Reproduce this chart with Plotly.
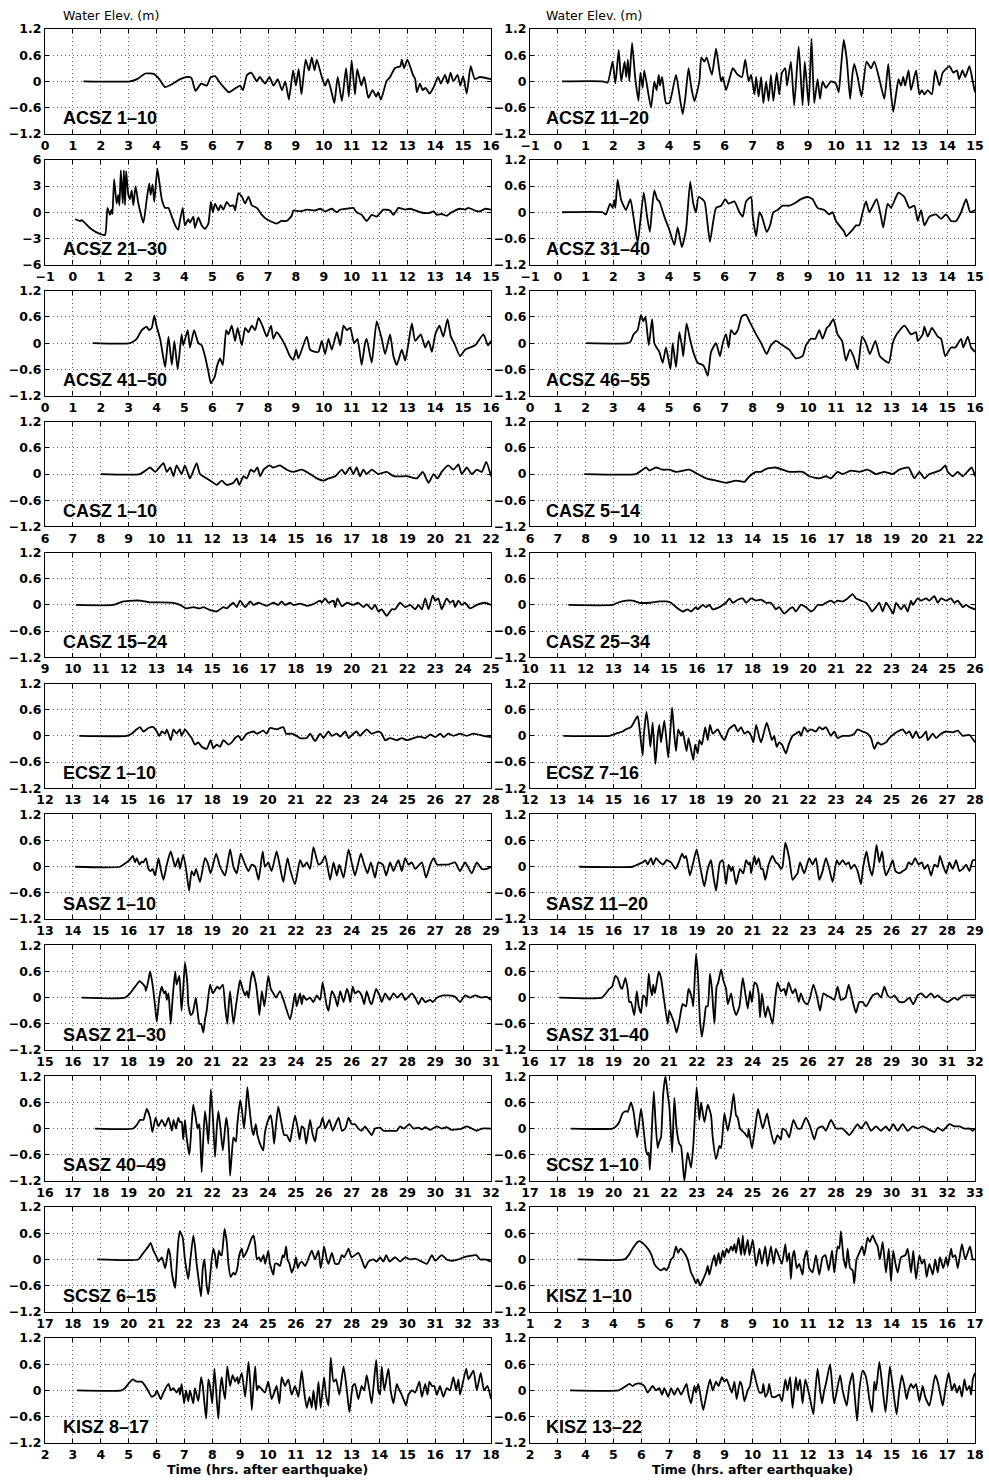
import plotly.graph_objects as go

# ---------------- data (time in hours, water elevation in m) ----------------
ACSZ_1_10 = [(1.38,0),(3.05,0),(3.3,0.05),(3.6,0.18),(3.9,0.17),(4.1,0.05),(4.3,-0.13),(4.6,-0.05),(4.85,0.05),(5.1,0.1),
 (5.25,0.08),(5.4,-0.22),(5.6,-0.05),(5.8,-0.1),(5.95,0.1),(6.1,0.12),(6.3,-0.05),(6.6,-0.25),(6.85,-0.15),(7.0,-0.1),
 (7.1,-0.2),(7.25,0.15),(7.4,0.2),(7.6,0.0),(7.7,0.1),(7.9,-0.05),(8.05,0.1),(8.2,-0.1),(8.35,0.05),(8.5,-0.2),
 (8.62,0.0),(8.75,-0.42),(8.9,0.25),(9.0,-0.1),(9.1,0.28),(9.2,-0.3),(9.35,0.5),(9.47,0.25),(9.57,0.55),(9.67,0.25),
 (9.75,0.5),(9.93,0.1),(10.05,-0.1),(10.15,0.05),(10.3,-0.3),(10.38,-0.5),(10.5,0.1),(10.65,-0.45),(10.8,0.3),(10.9,-0.35),
 (11.0,0.48),(11.12,-0.3),(11.2,0.28),(11.35,-0.1),(11.45,0.1),(11.6,-0.38),(11.75,-0.2),(11.88,-0.35),(11.95,-0.25),(12.05,-0.42),
 (12.25,0.0),(12.38,0.1),(12.55,0.3),(12.75,0.35),(12.8,0.5),(12.88,0.3),(13.0,0.5),(13.2,0.15),(13.28,0.05),(13.34,-0.25),
 (13.45,-0.05),(13.55,-0.2),(13.65,-0.15),(13.8,-0.28),(13.93,-0.15),(14.1,0.1),(14.2,-0.05),(14.35,0.15),(14.45,-0.05),(14.55,0.2),
 (14.65,0.0),(14.8,0.15),(14.9,-0.1),(15.0,0.12),(15.13,-0.28),(15.27,0.35),(15.42,0.05),(15.6,0.1),(16.0,0.05)]

ACSZ_21_30 = [(0.08,-0.8),(0.26,-1.0),(0.32,-0.9),(0.61,-1.8),(0.85,-2.3),(1.15,-2.6),(1.24,0.5),(1.33,-0.3),(1.39,0.3),(1.42,-0.2),
 (1.48,3.8),(1.57,1.0),(1.63,2.0),(1.67,0.8),(1.72,4.8),(1.79,1.0),(1.83,4.8),(1.87,0.8),(1.91,4.7),(1.99,2.0),
 (2.05,1.5),(2.11,2.5),(2.17,0.8),(2.25,3.0),(2.35,1.0),(2.53,-1.2),(2.65,1.5),(2.74,3.3),(2.79,2.0),(2.86,3.2),
 (2.92,1.2),(3.03,5.0),(3.1,3.5),(3.19,1.5),(3.31,0.5),(3.43,0.5),(3.55,-0.5),(3.67,-1.5),(3.78,-2.0),(3.84,-1.0),
 (3.94,0.5),(4.02,-1.5),(4.14,-0.8),(4.2,-1.2),(4.32,-0.5),(4.38,-1.8),(4.5,-0.6),(4.62,-1.5),(4.74,-1.9),(4.86,-1.3),
 (4.95,1.2),(5.02,0.0),(5.1,1.0),(5.22,0.2),(5.3,0.8),(5.4,0.3),(5.52,1.2),(5.64,0.7),(5.76,0.8),(5.82,0.2),
 (5.94,2.2),(6.06,1.8),(6.18,1.0),(6.3,1.8),(6.42,0.8),(6.6,0.5),(6.78,-0.3),(6.95,-0.8),(7.31,-1.3),(7.49,-1.0),
 (7.67,-1.0),(7.85,-0.4),(7.91,0.2),(8.15,0.1),(8.39,0.3),(8.69,0.2),(8.87,0.4),(9.05,0.1),(9.29,0.4),(9.47,0.0),
 (9.59,0.3),(9.83,0.4),(10.06,0.5),(10.18,0.0),(10.36,-0.3),(10.54,-1.0),(10.72,-0.3),(10.9,-0.5),(11.14,0.3),(11.38,0.2),
 (11.5,-0.3),(11.68,0.5),(11.92,0.3),(12.1,0.4),(12.46,0.0),(12.76,-0.1),(12.94,0.1),(13.06,-0.3),(13.23,-0.2),(13.41,-0.4),
 (13.59,0.0),(13.89,0.4),(14.07,0.3),(14.19,0.5),(14.43,0.2),(14.61,0.1),(14.79,0.4),(15.0,0.3)]

ACSZ_41_50 = [(1.71,0),(3.05,0),(3.29,0.1),(3.47,0.3),(3.65,0.38),(3.73,0.3),(3.83,0.35),(3.92,0.63),(4.0,0.4),(4.13,0.1),
 (4.21,-0.2),(4.31,-0.55),(4.43,0.15),(4.55,-0.5),(4.64,0.05),(4.76,-0.6),(4.9,0.2),(4.96,-0.05),(5.12,0.3),(5.2,-0.1),
 (5.35,0.3),(5.5,0.0),(5.62,-0.05),(5.74,-0.3),(5.86,-0.65),(5.95,-0.92),(6.1,-0.75),(6.16,-0.55),(6.28,-0.35),(6.38,-0.5),
 (6.5,0.3),(6.58,0.2),(6.7,0.4),(6.82,0.05),(6.91,0.35),(7.06,-0.05),(7.18,0.35),(7.3,0.25),(7.42,0.4),(7.54,0.3),
 (7.66,0.58),(7.83,0.35),(7.95,0.15),(8.11,0.4),(8.19,0.1),(8.31,0.25),(8.49,0.1),(8.65,-0.1),(8.79,-0.3),(8.91,-0.38),
 (9.01,-0.15),(9.09,-0.35),(9.39,0.15),(9.51,-0.15),(9.69,-0.2),(9.81,-0.2),(9.93,0.05),(10.05,-0.25),(10.17,0.1),(10.29,-0.15),
 (10.47,0.25),(10.59,-0.05),(10.71,0.4),(10.83,0.3),(10.95,0.35),(11.09,0.0),(11.21,0.1),(11.36,-0.5),(11.48,0.0),(11.54,0.1),
 (11.72,-0.45),(11.9,0.5),(12.08,0.1),(12.2,-0.25),(12.38,0.2),(12.5,-0.3),(12.62,-0.5),(12.8,-0.15),(12.92,-0.4),(13.04,0.0),
 (13.16,0.45),(13.28,0.05),(13.48,0.2),(13.64,-0.1),(13.76,0.05),(13.88,-0.2),(14.0,0.2),(14.15,0.4),(14.29,0.15),(14.44,0.55),
 (14.56,0.15),(14.68,0.0),(14.89,-0.3),(15.07,-0.15),(15.25,-0.1),(15.43,-0.05),(15.73,0.2),(15.89,-0.05),(16.0,0.05)]

CASZ_1_10 = [(8.0,0),(9.41,0),(9.65,0.1),(9.77,0.15),(9.95,0.05),(10.25,0.25),(10.37,0.05),(10.49,0.15),(10.61,-0.05),(10.72,0.2),
 (10.9,0.0),(11.02,0.2),(11.2,-0.1),(11.44,0.25),(11.56,0.0),(11.8,-0.1),(12.04,-0.2),(12.16,-0.25),(12.34,-0.15),(12.52,-0.25),
 (12.76,-0.2),(12.88,-0.1),(12.97,-0.25),(13.12,-0.05),(13.24,-0.1),(13.38,0.1),(13.5,0.05),(13.62,0.15),(13.72,-0.05),(13.84,0.1),
 (14.05,0.2),(14.19,0.15),(14.43,0.2),(14.67,0.1),(14.91,0.05),(15.21,0.1),(15.51,0.0),(15.75,-0.1),(15.99,-0.15),(16.17,-0.1),
 (16.41,-0.05),(16.65,0.1),(16.77,0.0),(16.94,0.15),(17.06,0.0),(17.18,0.15),(17.3,-0.05),(17.42,0.1),(17.54,0.0),(17.72,0.1),
 (17.96,0.0),(18.26,0.05),(18.5,-0.05),(18.98,-0.05),(19.34,-0.1),(19.55,0.05),(19.76,-0.2),(19.94,0.0),(20.08,-0.1),(20.23,0.05),
 (20.47,0.2),(20.65,0.1),(20.83,0.22),(20.95,0.0),(21.13,0.15),(21.31,0.0),(21.49,0.1),(21.67,0.05),(21.83,0.28),(22.0,-0.05)]

CASZ_15_24_T = [10.11,11.45,11.81,12.17,12.41,12.77,13.13,13.61,13.84,14.08,
 14.32,14.56,14.68,14.86,15.16,15.4,15.52,15.76,15.88,16.0,
 16.18,16.36,16.48,16.66,16.95,17.19,17.37,17.49,17.61,17.79,
 17.91,18.15,18.39,18.63,18.87,18.93,19.05,19.17,19.35,19.41,
 19.49,19.65,19.83,20.06,20.24,20.42,20.54,20.72,20.84,20.96,
 21.08,21.26,21.44,21.56,21.74,21.92,22.1,22.28,22.4,22.52,
 22.64,22.76,22.91,23.0,23.11,23.23,23.41,23.53,23.65,23.71,
 23.83,23.95,24.07,24.25,24.49,24.79,25.0]
CASZ_15_24_Y = [0,0,0.08,0.1,0.1,0.06,0.06,0.05,0.0,-0.08,
 -0.05,-0.08,-0.05,-0.1,-0.15,-0.05,-0.08,0.05,-0.05,0.1,
 -0.05,0.08,0.0,0.05,-0.02,0.05,0.0,0.08,0.0,0.05,
 0.0,0.03,-0.02,0.02,0.1,0.05,0.15,0.05,0.1,-0.05,
 0.15,-0.03,0.05,0.0,0.05,-0.05,0.02,-0.1,0.0,-0.15,
 -0.1,-0.25,-0.1,-0.1,0.05,-0.05,0.0,-0.1,0.0,-0.1,
 0.15,-0.1,0.22,0.1,0.15,-0.1,0.15,0.05,0.1,-0.05,
 0.1,0.0,0.05,-0.08,0.0,0.05,0.0]

ECSZ_1_10_T = [13.23,14.93,15.11,15.29,15.41,15.53,15.71,15.89,16.01,16.1,
 16.19,16.31,16.37,16.51,16.61,16.72,16.84,16.9,17.02,17.14,
 17.26,17.38,17.5,17.62,17.8,17.94,18.04,18.16,18.28,18.4,
 18.58,18.7,18.82,18.94,19.06,19.24,19.48,19.6,19.83,19.95,
 20.07,20.31,20.55,20.65,20.85,21.03,21.15,21.39,21.51,21.69,
 21.87,21.99,22.17,22.29,22.47,22.59,22.77,22.89,23.06,23.18,
 23.3,23.54,23.72,23.96,24.08,24.2,24.38,24.62,24.8,24.98,
 25.22,25.46,25.64,25.82,26.0,26.18,26.3,26.47,26.65,26.89,
 27.13,27.37,27.73,28.0]
ECSZ_1_10_Y = [0,0,0.05,0.15,0.2,0.1,0.18,0.2,0.1,0.0,
 0.1,0.05,0.15,-0.1,0.15,0.05,0.15,0.0,0.15,0.05,
 -0.05,-0.2,-0.15,-0.25,-0.3,-0.1,-0.28,-0.2,-0.25,-0.1,
 -0.2,-0.15,-0.05,0.0,-0.1,0.05,0.1,0.05,0.12,0.05,
 0.18,0.15,0.2,0.05,0.05,0.0,-0.05,-0.05,0.05,-0.12,
 0.05,-0.05,0.1,0.0,0.05,-0.02,0.1,-0.05,0.05,0.1,
 0.0,0.15,0.05,0.1,0.05,-0.1,-0.05,-0.1,-0.05,-0.1,
 -0.05,-0.02,-0.05,0.03,-0.03,0.05,-0.03,0.05,0.0,0.05,
 0.0,0.05,0.0,-0.03]

SASZ_1_10_T = [14.08,15.69,15.93,16.03,16.15,16.23,16.29,16.39,16.47,16.53,
 16.62,16.71,16.79,16.86,16.95,17.07,17.15,17.25,17.37,17.51,
 17.67,17.78,17.84,17.96,18.06,18.17,18.26,18.35,18.42,18.56,
 18.74,18.83,18.94,19.14,19.28,19.46,19.64,19.76,19.88,20.02,
 20.18,20.3,20.42,20.54,20.66,20.81,20.89,21.01,21.13,21.31,
 21.43,21.55,21.7,21.79,21.97,22.15,22.27,22.39,22.51,22.63,
 22.81,22.93,23.05,23.23,23.35,23.47,23.56,23.71,23.89,24.0,
 24.12,24.33,24.45,24.57,24.69,24.84,24.96,25.12,25.24,25.38,
 25.5,25.6,25.68,25.8,25.92,26.04,26.16,26.28,26.52,26.67,
 26.82,26.94,27.06,27.29,27.47,27.71,27.89,28.07,28.31,28.49,
 28.67,28.85,29.0]
SASZ_1_10_Y = [0,0,0.1,0.15,0.25,0.1,0.2,0.05,0.12,0.1,
 0.2,-0.05,-0.1,-0.05,-0.2,0.2,-0.05,-0.3,0.05,0.35,
 0.0,0.2,-0.05,0.28,-0.05,-0.55,-0.1,-0.2,-0.05,-0.35,
 0.2,0.1,-0.15,0.3,0.0,-0.2,0.4,0.0,-0.15,0.3,
 0.05,-0.1,0.05,0.0,-0.3,0.35,0.0,0.1,-0.1,0.35,
 0.0,-0.35,0.2,-0.05,-0.4,0.15,0.0,0.1,-0.05,0.45,
 0.05,0.1,0.25,-0.3,0.1,-0.2,0.05,-0.25,0.4,0.1,
 -0.2,0.3,0.05,-0.15,0.1,-0.25,0.1,0.05,-0.2,0.1,
 -0.1,0.05,0.15,-0.1,0.2,0.05,0.1,-0.05,0.1,-0.25,
 0.05,0.2,0.05,0.05,0.05,0.1,-0.1,0.1,-0.15,0.1,
 -0.05,-0.05,0.0]

SASZ_21_30 = [(16.32,0),(17.87,0),(18.05,0.1),(18.17,0.2),(18.29,0.3),(18.39,0.38),(18.53,0.3),(18.59,0.25),(18.62,0.15),(18.71,0.4),
 (18.77,0.6),(18.86,0.3),(18.95,-0.2),(19.01,-0.55),(19.1,0.0),(19.19,0.25),(19.27,0.1),(19.33,0.15),(19.37,-0.05),(19.43,0.1),
 (19.51,-0.6),(19.58,0.0),(19.67,0.6),(19.72,0.3),(19.82,0.5),(19.87,0.0),(19.9,-0.3),(19.96,0.2),(20.02,0.8),(20.11,0.3),
 (20.14,-0.15),(20.23,-0.4),(20.3,-0.35),(20.35,-0.2),(20.41,0.0),(20.47,-0.3),(20.54,-0.6),(20.6,-0.6),(20.68,-0.8),(20.74,-0.5),
 (20.8,-0.3),(20.92,0.3),(21.02,0.1),(21.18,0.25),(21.26,0.2),(21.38,0.3),(21.46,-0.2),(21.54,-0.6),(21.6,-0.1),(21.64,0.15),
 (21.76,-0.6),(21.85,-0.2),(21.94,0.2),(22.0,0.4),(22.09,0.2),(22.18,0.05),(22.24,0.15),(22.3,0.0),(22.38,0.4),(22.45,0.6),
 (22.57,0.3),(22.66,-0.2),(22.69,-0.4),(22.78,0.15),(22.87,-0.2),(23.01,0.5),(23.1,0.2),(23.19,0.1),(23.29,0.0),(23.43,0.15),
 (23.58,-0.1),(23.79,-0.5),(23.89,-0.2),(23.97,0.1),(24.03,-0.2),(24.15,0.1),(24.21,-0.15),(24.27,0.05),(24.37,-0.05),(24.51,0.0),
 (24.63,-0.1),(24.75,0.05),(24.87,-0.05),(24.96,0.35),(25.11,-0.2),(25.17,-0.3),(25.29,0.15),(25.41,0.0),(25.49,-0.2),(25.59,0.15),
 (25.71,-0.1),(25.83,0.2),(25.89,0.1),(25.95,-0.1),(26.04,0.25),(26.12,0.1),(26.24,0.15),(26.36,0.05),(26.45,-0.15),(26.54,0.15),
 (26.66,-0.1),(26.72,-0.15),(26.88,0.2),(27.0,0.05),(27.08,-0.1),(27.2,0.1),(27.36,-0.05),(27.5,0.1),(27.64,0.0),(27.8,0.1),
 (27.92,-0.05),(28.16,0.1),(28.28,0.0),(28.4,-0.15),(28.52,0.0),(28.64,-0.1),(28.82,-0.05),(28.91,-0.1),(29.06,0.0),(29.29,0.05),
 (29.47,0.05),(29.71,0.02),(29.89,-0.1),(30.07,0.05),(30.25,0.0),(30.43,0.05),(30.67,0.0),(30.85,0.02),(31.0,-0.05)]

SASZ_40_49 = [(17.79,0),(19.17,0),(19.31,0.1),(19.41,0.2),(19.53,0.2),(19.65,0.45),(19.77,0.25),(19.85,-0.08),(19.97,0.25),(20.07,0.05),
 (20.19,0.2),(20.31,0.05),(20.43,0.25),(20.55,-0.05),(20.61,0.2),(20.7,0.0),(20.78,0.25),(20.84,0.15),(20.9,0.15),(20.96,-0.25),
 (21.02,0.2),(21.08,-0.2),(21.18,-0.6),(21.26,0.1),(21.32,0.55),(21.42,0.2),(21.47,0.0),(21.53,0.1),(21.56,-0.1),(21.62,-1.0),
 (21.68,-0.2),(21.74,0.4),(21.8,0.1),(21.86,-0.35),(21.95,0.9),(22.02,0.3),(22.1,-0.65),(22.16,0.0),(22.22,0.4),(22.28,0.1),
 (22.38,-0.5),(22.5,0.25),(22.56,0.0),(22.61,-0.6),(22.64,-1.08),(22.7,-0.6),(22.76,-0.2),(22.85,-0.3),(22.9,0.1),(23.0,0.65),
 (23.06,0.45),(23.14,0.0),(23.21,0.5),(23.26,0.95),(23.33,0.5),(23.42,0.0),(23.48,-0.15),(23.56,0.1),(23.62,-0.15),(23.78,-0.45),
 (23.83,-0.5),(23.89,-0.1),(24.01,0.2),(24.1,0.3),(24.17,0.0),(24.22,-0.35),(24.29,0.1),(24.37,0.5),(24.49,0.1),(24.58,-0.15),
 (24.67,-0.15),(24.79,-0.3),(24.85,-0.1),(24.97,0.3),(25.07,0.0),(25.13,-0.25),(25.21,0.05),(25.29,0.0),(25.37,-0.35),(25.51,0.2),
 (25.59,-0.1),(25.69,-0.3),(25.77,0.0),(25.87,0.05),(25.96,0.25),(26.05,0.0),(26.2,0.2),(26.32,-0.05),(26.53,0.25),(26.65,-0.05),
 (26.77,0.0),(26.89,0.25),(27.0,0.1),(27.12,0.1),(27.24,0.0),(27.36,-0.05),(27.48,0.05),(27.72,-0.15),(27.84,0.0),(28.02,0.02),
 (28.14,-0.05),(28.38,-0.05),(28.62,-0.05),(28.74,0.05),(28.88,0.0),(29.07,0.1),(29.22,0.0),(29.4,0.02),(29.52,-0.02),(29.64,0.03),
 (29.82,-0.03),(30.06,0.05),(30.23,0.0),(30.41,0.03),(30.59,-0.03),(30.77,-0.02),(30.95,0.0),(31.13,0.05),(31.25,0.02),(31.49,-0.05),
 (31.67,0.0),(32.0,0.0)]

SCSZ_6_15 = [(18.88,0),(20.35,0),(20.47,0.1),(20.59,0.2),(20.71,0.3),(20.79,0.38),(20.89,0.2),(21.01,0.05),(21.07,-0.05),(21.19,0.05),
 (21.31,-0.2),(21.37,0.0),(21.43,0.25),(21.49,0.1),(21.55,-0.3),(21.67,-0.65),(21.72,-0.2),(21.78,0.4),(21.84,0.65),(21.94,0.5),
 (22.02,0.0),(22.14,-0.45),(22.2,-0.1),(22.32,0.55),(22.38,0.3),(22.44,-0.1),(22.54,-0.6),(22.6,-0.85),(22.66,-0.2),(22.72,0.0),
 (22.8,-0.6),(22.86,-0.8),(22.92,-0.4),(22.98,0.0),(23.04,0.25),(23.1,0.1),(23.16,-0.2),(23.24,0.2),(23.3,0.1),(23.34,0.1),
 (23.44,0.7),(23.52,0.4),(23.58,-0.1),(23.66,-0.4),(23.76,-0.3),(23.82,-0.35),(23.9,-0.2),(23.97,0.1),(24.06,0.25),(24.12,0.05),
 (24.25,0.2),(24.42,0.5),(24.48,0.55),(24.54,0.35),(24.6,0.0),(24.68,0.05),(24.74,-0.05),(24.84,0.1),(24.9,-0.1),(25.01,0.2),
 (25.07,-0.1),(25.19,-0.35),(25.25,-0.1),(25.34,-0.1),(25.43,-0.15),(25.53,0.1),(25.58,0.05),(25.65,0.3),(25.7,0.0),(25.77,-0.1),
 (25.85,-0.3),(25.94,-0.15),(26.0,0.05),(26.07,-0.2),(26.13,-0.1),(26.21,-0.05),(26.33,-0.15),(26.41,-0.05),(26.57,0.2),(26.69,0.0),
 (26.81,0.2),(26.89,-0.2),(26.95,0.0),(27.01,0.3),(27.11,0.0),(27.17,-0.1),(27.29,0.15),(27.41,-0.1),(27.53,-0.1),(27.65,0.1),
 (27.73,0.05),(27.85,0.2),(27.89,0.25),(28.0,0.05),(28.24,0.15),(28.36,0.0),(28.48,-0.2),(28.6,-0.05),(28.78,0.0),(28.9,-0.05),
 (29.02,0.05),(29.14,-0.05),(29.24,0.1),(29.36,-0.05),(29.56,0.05),(29.74,-0.05),(29.92,0.05),(30.1,0.0),(30.28,0.02),(30.52,-0.05),
 (30.7,-0.1),(30.88,0.1),(31.0,-0.03),(31.23,0.1),(31.41,0.0),(31.59,-0.03),(31.83,0.0),(32.01,0.05),(32.47,0.1),(32.61,0.0),
 (32.79,0.0),(33.0,-0.05)]

KISZ_8_17 = [(3.14,0),(4.75,0),(4.87,0.05),(4.99,0.15),(5.15,0.25),(5.29,0.2),(5.47,0.2),(5.65,0.05),(5.83,-0.15),(5.95,-0.1),
 (6.01,0.0),(6.15,-0.2),(6.25,-0.05),(6.43,0.15),(6.51,0.0),(6.61,0.05),(6.72,-0.05),(6.81,0.05),(6.84,-0.1),(6.9,0.15),
 (6.99,-0.3),(7.06,0.0),(7.14,-0.25),(7.2,0.0),(7.26,-0.15),(7.32,-0.3),(7.38,0.05),(7.5,-0.25),(7.6,0.3),(7.66,0.1),
 (7.78,-0.65),(7.86,0.25),(7.92,0.1),(8.0,-0.3),(8.08,0.5),(8.16,-0.2),(8.22,-0.65),(8.28,0.0),(8.34,0.3),(8.4,0.0),
 (8.46,-0.2),(8.54,0.55),(8.64,0.1),(8.73,0.35),(8.82,0.2),(8.9,0.3),(8.94,0.15),(9.06,0.4),(9.18,-0.15),(9.3,0.65),
 (9.36,0.2),(9.42,-0.45),(9.48,0.1),(9.54,0.55),(9.6,0.0),(9.66,0.1),(9.74,0.05),(9.89,-0.05),(10.01,0.2),(10.13,-0.2),
 (10.25,0.0),(10.31,0.1),(10.41,-0.3),(10.49,0.3),(10.61,0.1),(10.73,0.25),(10.85,-0.1),(10.97,0.1),(11.09,-0.15),(11.21,0.45),
 (11.29,0.0),(11.39,-0.4),(11.49,-0.15),(11.57,-0.4),(11.63,0.0),(11.72,-0.45),(11.81,0.2),(11.89,-0.4),(12.01,0.3),(12.08,-0.1),
 (12.17,-0.35),(12.25,0.75),(12.35,0.2),(12.44,0.25),(12.56,-0.1),(12.71,0.55),(12.83,0.0),(12.92,-0.5),(13.04,0.1),(13.12,0.15),
 (13.24,-0.2),(13.36,0.1),(13.45,0.0),(13.54,0.35),(13.64,0.0),(13.72,-0.3),(13.88,0.7),(13.96,0.0),(14.02,-0.1),(14.08,0.55),
 (14.17,0.0),(14.32,0.5),(14.4,0.0),(14.5,-0.3),(14.62,0.15),(14.68,0.05),(14.76,-0.05),(14.92,-0.3),(14.95,-0.35),(15.04,-0.1),
 (15.16,0.0),(15.28,-0.05),(15.43,0.2),(15.52,-0.15),(15.64,0.15),(15.72,-0.1),(15.79,0.2),(15.88,0.1),(15.96,0.1),(16.06,-0.1),
 (16.17,0.1),(16.29,-0.15),(16.41,0.05),(16.53,0.0),(16.65,0.3),(16.75,0.0),(16.83,0.25),(16.89,-0.1),(17.11,0.5),(17.19,0.25),
 (17.37,0.45),(17.49,0.0),(17.63,0.4),(17.75,0.0),(17.87,0.1),(18.0,-0.2)]

ACSZ_11_20 = [(0.15,0),(1.61,0),(1.79,-0.03),(1.97,0.45),(2.07,-0.05),(2.19,0.72),(2.28,0.0),(2.4,0.45),(2.46,0.1),(2.52,0.5),
 (2.57,0.0),(2.67,0.88),(2.78,0.1),(2.9,-0.45),(2.97,0.2),(3.05,-0.15),(3.11,0.25),(3.35,-0.6),(3.47,0.0),(3.55,-0.2),
 (3.63,0.15),(3.67,-0.1),(3.75,0.1),(3.89,-0.5),(4.01,-0.5),(4.25,0.15),(4.37,-0.3),(4.49,-0.75),(4.58,-0.4),(4.7,0.3),
 (4.79,-0.1),(4.91,-0.45),(5.09,0.0),(5.16,0.55),(5.27,0.45),(5.35,0.55),(5.54,0.15),(5.69,0.75),(5.87,0.0),(5.93,0.1),
 (6.05,-0.2),(6.19,0.1),(6.29,0.3),(6.47,0.15),(6.62,0.1),(6.74,0.5),(6.86,0.0),(6.95,0.15),(7.07,-0.3),(7.13,0.1),
 (7.22,-0.35),(7.31,0.1),(7.39,-0.5),(7.49,0.0),(7.58,-0.45),(7.66,0.15),(7.75,-0.45),(7.87,0.2),(7.96,-0.3),(8.06,0.2),
 (8.18,0.3),(8.24,-0.1),(8.38,0.45),(8.5,-0.55),(8.66,0.8),(8.8,-0.55),(8.88,0.45),(9.02,-0.55),(9.12,0.98),(9.22,-0.5),
 (9.34,0.05),(9.43,-0.4),(9.52,0.0),(9.64,-0.15),(9.82,0.0),(10.0,-0.05),(10.1,-0.25),(10.18,0.3),(10.28,0.95),(10.39,0.5),
 (10.51,-0.4),(10.6,0.2),(10.66,0.4),(10.78,0.1),(10.92,-0.35),(11.1,0.45),(11.26,0.3),(11.38,0.45),(11.58,0.0),(11.74,-0.4),
 (11.88,0.4),(11.95,-0.1),(12.06,-0.7),(12.16,-0.3),(12.25,0.05),(12.34,-0.1),(12.42,0.1),(12.49,-0.1),(12.61,0.25),(12.7,-0.2),
 (12.88,0.25),(13.0,-0.3),(13.09,-0.2),(13.18,-0.3),(13.3,-0.2),(13.45,-0.3),(13.57,0.25),(13.72,-0.1),(13.84,0.2),(14.08,0.35),
 (14.22,0.2),(14.35,0.25),(14.43,0.05),(14.55,0.25),(14.65,0.1),(14.8,0.35),(14.92,0.0),(15.0,-0.25)]

ACSZ_31_40_T = [0.15,1.61,1.73,1.88,1.97,2.03,2.07,2.15,2.27,2.33,
 2.45,2.61,2.72,2.87,2.95,3.09,3.21,3.31,3.39,3.47,
 3.57,3.65,3.83,4.01,4.19,4.31,4.46,4.61,4.76,4.87,
 4.97,5.06,5.27,5.39,5.47,5.59,5.69,5.87,6.02,6.14,
 6.35,6.53,6.65,6.77,6.95,7.01,7.13,7.25,7.34,7.51,
 7.63,7.75,7.9,8.08,8.32,8.5,8.74,8.98,9.16,9.34,
 9.58,9.76,9.88,10.0,10.3,10.36,10.6,10.72,10.84,10.96,
 11.08,11.2,11.46,11.62,11.7,11.86,11.98,12.16,12.25,12.46,
 12.64,12.82,12.94,13.06,13.18,13.36,13.6,13.78,13.96,14.14,
 14.32,14.5,14.68,14.83,15.0]
ACSZ_31_40_Y = [0,0,-0.05,0.2,0.1,0.28,0.1,0.75,0.3,0.2,
 0.05,0.3,-0.1,-0.7,-0.3,0.45,-0.1,-0.45,0.1,0.5,
 0.3,0.25,-0.1,-0.4,-0.75,-0.35,-0.8,-0.4,0.7,0.2,
 0.0,0.35,0.25,-0.3,-0.68,-0.2,0.1,0.15,0.3,0.2,
 0.25,0.0,-0.1,0.25,0.35,-0.1,-0.55,0.0,-0.1,-0.45,
 -0.3,0.0,0.05,0.15,0.15,0.2,0.3,0.35,0.3,0.1,
 0.05,-0.05,0.0,-0.2,-0.45,-0.55,-0.4,-0.3,-0.3,0.0,
 0.25,0.0,0.3,-0.1,-0.35,0.2,0.1,0.35,0.45,0.35,
 0.1,0.15,-0.2,0.05,-0.3,-0.1,-0.05,-0.15,-0.05,-0.2,
 -0.2,0.0,0.3,0.0,0.05]

ACSZ_46_55 = [(2.01,0),(3.51,0),(3.63,0.05),(3.72,0.2),(3.87,0.3),(3.99,0.65),(4.07,0.5),(4.15,0.6),(4.27,-0.05),(4.39,0.55),
 (4.47,0.0),(4.55,-0.1),(4.65,-0.2),(4.77,-0.45),(4.89,-0.1),(5.05,-0.6),(5.13,0.0),(5.25,-0.55),(5.37,0.25),(5.47,-0.1),
 (5.51,-0.3),(5.63,0.45),(5.75,0.1),(5.87,-0.2),(6.03,-0.45),(6.21,-0.5),(6.27,-0.55),(6.39,-0.75),(6.51,-0.2),(6.69,0.0),
 (6.83,-0.3),(6.93,0.0),(7.05,0.2),(7.14,-0.1),(7.23,0.3),(7.35,0.2),(7.47,0.3),(7.62,0.62),(7.77,0.65),(7.89,0.5),
 (8.13,0.2),(8.31,0.0),(8.51,-0.25),(8.66,-0.05),(8.84,0.05),(9.08,-0.05),(9.32,-0.15),(9.56,-0.35),(9.8,-0.3),(9.92,-0.05),
 (10.1,0.1),(10.26,0.1),(10.4,0.3),(10.52,0.1),(10.67,0.35),(10.76,0.4),(10.91,0.55),(11.06,0.2),(11.22,0.05),(11.36,-0.4),
 (11.5,-0.15),(11.63,-0.3),(11.78,-0.6),(11.94,0.15),(12.08,0.0),(12.22,-0.25),(12.42,0.05),(12.58,-0.3),(12.9,-0.45),(13.04,0.0),
 (13.18,0.2),(13.46,0.4),(13.7,0.2),(13.88,0.25),(13.94,0.05),(14.12,0.2),(14.18,0.38),(14.3,0.15),(14.45,0.35),(14.66,0.15),
 (14.78,0.1),(14.93,-0.3),(15.14,-0.1),(15.29,-0.1),(15.5,0.1),(15.58,-0.1),(15.74,0.15),(15.86,-0.1),(16.0,-0.2)]

CASZ_5_14_T = [7.95,9.81,10.05,10.17,10.29,10.53,10.77,11.01,11.25,11.73,
 12.03,12.33,12.69,13.05,13.41,13.71,13.89,14.13,14.31,14.49,
 14.84,15.08,15.32,15.8,16.04,16.4,16.64,16.82,17.06,17.24,
 17.54,17.84,18.14,18.44,18.74,19.04,19.28,19.61,19.82,20.0,
 20.18,20.36,20.6,20.78,20.93,21.02,21.2,21.38,21.56,21.88,
 22.0]
CASZ_5_14_Y = [0,0,0.1,0.15,0.08,0.15,0.1,0.1,0.05,0.1,
 0.0,-0.1,-0.15,-0.2,-0.15,-0.18,-0.05,0.05,0.05,0.12,
 0.15,0.1,0.05,0.05,-0.05,-0.1,-0.05,-0.1,0.05,0.0,
 0.08,0.05,0.1,0.0,0.05,0.0,0.1,0.15,-0.1,0.05,
 -0.1,0.0,0.05,0.1,0.2,0.05,-0.05,0.05,-0.05,0.15,
 -0.05]

CASZ_25_34_T = [11.38,12.97,13.15,13.45,13.69,13.93,14.29,14.65,14.89,15.07,
 15.25,15.49,15.67,15.79,15.97,16.03,16.21,16.33,16.45,16.57,
 16.81,16.93,17.05,17.17,17.29,17.47,17.65,17.77,17.95,18.13,
 18.31,18.49,18.66,18.78,18.84,18.96,19.14,19.32,19.44,19.56,
 19.74,19.92,20.1,20.22,20.34,20.52,20.64,20.82,20.94,21.06,
 21.24,21.42,21.6,21.72,21.9,22.08,22.2,22.3,22.44,22.56,
 22.68,22.8,22.92,23.06,23.16,23.34,23.46,23.58,23.7,23.76,
 23.94,24.06,24.24,24.36,24.54,24.66,24.78,24.96,25.14,25.26,
 25.38,25.56,25.68,25.8,26.0]
CASZ_25_34_Y = [0,0,0.05,0.1,0.1,0.05,0.05,0.08,0.08,0.05,
 -0.05,-0.15,-0.1,-0.15,-0.05,-0.1,0.0,-0.05,0.0,-0.1,
 -0.05,0.0,0.05,0.15,0.05,0.12,0.15,0.05,0.15,0.1,
 0.12,0.05,0.05,-0.05,-0.1,-0.05,-0.2,-0.1,-0.05,-0.15,
 0.0,-0.05,-0.15,-0.1,0.0,0.0,0.05,0.1,0.05,0.1,
 0.08,0.15,0.25,0.15,0.1,0.05,-0.05,-0.15,-0.05,0.05,
 -0.15,0.05,-0.05,-0.2,0.05,-0.1,0.0,-0.15,0.1,0.0,
 0.15,0.1,0.15,0.1,0.2,0.05,0.15,0.1,0.15,0.05,
 0.1,-0.05,0.0,-0.05,-0.1]

ECSZ_7_16_T = [13.2,14.85,15.09,15.33,15.45,15.63,15.87,15.95,16.05,16.09,
 16.19,16.29,16.33,16.41,16.51,16.59,16.65,16.71,16.83,16.97,
 17.05,17.11,17.19,17.25,17.33,17.43,17.49,17.63,17.7,17.87,
 17.94,18.03,18.09,18.18,18.3,18.39,18.47,18.57,18.75,18.87,
 18.99,19.15,19.35,19.47,19.59,19.71,19.83,19.95,20.03,20.13,
 20.25,20.31,20.51,20.61,20.7,20.78,20.87,20.96,21.06,21.2,
 21.3,21.44,21.56,21.68,21.74,21.86,21.98,22.1,22.28,22.4,
 22.52,22.64,22.82,22.94,23.06,23.24,23.48,23.66,23.78,23.96,
 24.14,24.26,24.38,24.5,24.62,24.8,24.92,25.1,25.22,25.4,
 25.52,25.64,25.76,25.88,26.0,26.12,26.24,26.3,26.48,26.6,
 26.78,26.96,27.2,27.38,27.56,27.8,28.0]
ECSZ_7_16_Y = [0,0,0.05,0.1,0.15,0.2,0.45,0.1,-0.45,0.0,
 0.55,0.0,-0.25,0.3,-0.65,0.0,0.25,-0.15,0.35,-0.5,
 0.15,0.65,0.0,-0.35,0.15,0.0,0.1,-0.35,-0.05,-0.55,
 -0.2,-0.4,-0.1,-0.2,0.2,-0.1,0.25,0.05,0.15,0.0,
 -0.1,0.15,0.25,0.1,0.2,0.05,0.1,0.0,-0.15,0.25,
 -0.05,-0.15,0.3,0.1,-0.1,0.0,-0.25,-0.15,-0.2,-0.4,
 -0.2,0.0,0.05,0.1,0.0,0.2,0.1,0.15,0.1,0.2,
 0.15,0.2,0.0,0.1,-0.05,0.0,0.0,0.05,0.15,0.1,
 0.05,-0.05,-0.3,-0.15,-0.2,-0.15,-0.05,0.05,0.1,0.15,
 0.05,0.1,-0.05,0.1,-0.05,0.0,0.1,-0.1,0.05,-0.05,
 0.05,0.1,0.08,0.12,0.0,0.02,-0.15]

SASZ_11_20 = [(14.77,0),(16.69,0),(16.87,0.05),(17.05,0.1),(17.15,0.15),(17.23,0.05),(17.35,0.2),(17.43,0.05),(17.53,0.2),(17.67,0.1),
 (17.79,0.05),(17.91,0.15),(18.07,0.1),(18.23,-0.05),(18.35,0.1),(18.47,0.3),(18.55,0.2),(18.61,0.25),(18.75,-0.2),(18.87,0.1),
 (18.99,0.4),(19.09,0.1),(19.21,-0.3),(19.27,-0.45),(19.39,-0.05),(19.51,0.15),(19.59,-0.2),(19.69,-0.55),(19.83,0.1),(19.93,0.15),
 (20.05,-0.4),(20.14,0.05),(20.23,-0.1),(20.29,0.0),(20.41,-0.4),(20.55,-0.05),(20.67,-0.15),(20.77,0.15),(20.86,0.05),(20.91,0.1),
 (20.95,-0.15),(21.07,0.25),(21.13,0.05),(21.22,0.2),(21.31,-0.05),(21.37,-0.05),(21.46,-0.3),(21.58,0.05),(21.72,0.25),(21.84,0.1),
 (21.94,0.05),(22.02,-0.05),(22.08,0.0),(22.18,0.55),(22.32,0.2),(22.44,-0.3),(22.56,-0.2),(22.62,-0.15),(22.71,0.1),(22.86,-0.15),
 (23.04,0.2),(23.16,0.05),(23.28,0.2),(23.4,-0.3),(23.52,-0.1),(23.64,0.2),(23.76,-0.05),(23.88,-0.35),(24.03,0.15),(24.12,0.05),
 (24.24,0.15),(24.36,0.05),(24.46,0.1),(24.54,-0.05),(24.66,0.05),(24.78,-0.1),(24.9,-0.4),(24.98,0.0),(25.1,0.35),(25.2,0.0),
 (25.3,-0.2),(25.38,0.1),(25.46,0.5),(25.56,0.1),(25.66,0.35),(25.74,-0.05),(25.8,-0.2),(25.92,-0.05),(26.04,0.15),(26.14,-0.1),
 (26.28,-0.15),(26.4,-0.1),(26.52,-0.05),(26.61,0.1),(26.73,0.05),(26.85,0.2),(26.97,0.05),(27.09,0.1),(27.18,-0.05),(27.3,0.05),
 (27.42,-0.2),(27.54,0.05),(27.66,0.0),(27.74,0.25),(27.84,0.05),(27.96,-0.15),(28.08,0.1),(28.2,-0.05),(28.32,0.15),(28.44,-0.1),
 (28.56,-0.05),(28.68,0.05),(28.8,-0.1),(28.92,0.15),(29.0,0.15)]

SASZ_31_40 = [(17.05,0),(18.59,0),(18.73,0.1),(18.85,0.2),(18.95,0.25),(19.07,0.5),(19.15,0.45),(19.25,0.25),(19.31,0.2),(19.43,0.45),
 (19.51,0.2),(19.57,-0.1),(19.63,-0.1),(19.75,-0.4),(19.84,0.15),(19.91,-0.2),(19.99,-0.35),(20.07,0.05),(20.15,0.0),(20.19,-0.2),
 (20.27,0.55),(20.31,0.3),(20.39,0.05),(20.43,0.3),(20.49,0.1),(20.63,0.6),(20.71,0.45),(20.79,0.1),(20.95,-0.6),(21.01,-0.3),
 (21.11,-0.45),(21.19,-0.6),(21.27,-0.8),(21.35,-0.6),(21.43,-0.3),(21.49,-0.15),(21.61,-0.2),(21.7,0.2),(21.82,0.0),(21.87,-0.2),
 (21.97,1.0),(22.04,0.5),(22.11,-0.5),(22.18,-0.9),(22.27,-0.5),(22.33,-0.2),(22.39,-0.2),(22.47,0.55),(22.54,0.2),(22.63,-0.6),
 (22.71,0.25),(22.77,0.35),(22.87,0.65),(22.95,0.4),(23.05,0.2),(23.11,-0.15),(23.23,0.1),(23.31,-0.2),(23.41,-0.4),(23.53,-0.2),
 (23.65,0.45),(23.74,0.1),(23.83,-0.25),(23.91,0.15),(23.98,-0.1),(24.07,0.35),(24.15,0.3),(24.22,0.1),(24.27,-0.45),(24.34,0.1),
 (24.46,-0.45),(24.55,-0.2),(24.72,-0.6),(24.82,0.0),(24.9,0.35),(25.02,0.15),(25.14,0.2),(25.2,0.05),(25.3,0.35),(25.44,0.1),
 (25.54,0.2),(25.66,-0.1),(25.74,0.1),(25.86,-0.1),(25.98,-0.15),(26.07,0.0),(26.19,0.3),(26.31,0.05),(26.43,-0.3),(26.55,0.1),
 (26.67,0.05),(26.82,0.0),(26.94,-0.05),(27.06,0.25),(27.18,-0.05),(27.34,0.0),(27.46,0.3),(27.54,0.1),(27.63,-0.15),(27.72,-0.35),
 (27.84,-0.1),(27.96,-0.1),(28.08,-0.2),(28.32,0.05),(28.5,0.1),(28.62,0.0),(28.74,0.25),(28.86,0.05),(28.98,0.0),(29.1,0.05),
 (29.28,-0.1),(29.46,-0.1),(29.64,0.0),(29.78,-0.15),(29.94,0.05),(30.06,0.1),(30.24,0.0),(30.42,0.1),(30.54,0.0),(30.66,0.05),
 (30.84,-0.05),(31.02,-0.1),(31.26,0.0),(31.38,-0.05),(31.56,0.05),(31.8,0.05),(32.0,0.05)]

SCSZ_1_10 = [(18.47,0),(19.97,0),(20.09,0.05),(20.21,0.15),(20.33,0.35),(20.45,0.4),(20.51,0.38),(20.63,0.6),(20.72,0.4),(20.85,-0.2),
 (20.9,0.0),(20.99,0.45),(21.05,0.2),(21.17,-0.5),(21.23,-0.6),(21.27,-0.55),(21.31,-0.95),(21.37,-0.2),(21.45,0.85),(21.51,0.2),
 (21.59,-0.45),(21.65,-0.3),(21.71,-0.2),(21.79,0.8),(21.87,1.2),(21.95,0.8),(22.01,0.5),(22.11,-0.55),(22.19,0.7),(22.27,0.0),
 (22.37,-0.35),(22.43,-0.4),(22.55,-1.2),(22.67,-0.55),(22.79,-0.9),(22.88,-0.3),(22.99,0.95),(23.09,0.2),(23.15,0.6),(23.27,0.15),
 (23.39,0.55),(23.51,0.3),(23.57,-0.2),(23.69,-0.7),(23.81,-0.4),(23.87,-0.45),(23.99,0.35),(24.11,-0.05),(24.23,0.35),(24.32,0.8),
 (24.41,0.3),(24.47,0.25),(24.55,0.0),(24.71,-0.1),(24.83,-0.2),(24.86,0.0),(24.98,-0.45),(25.09,0.0),(25.2,0.45),(25.37,0.0),
 (25.52,0.35),(25.6,0.1),(25.78,-0.35),(25.9,-0.15),(26.02,-0.25),(26.08,0.0),(26.2,-0.05),(26.32,-0.2),(26.47,0.2),(26.62,0.0),
 (26.74,0.0),(26.92,0.25),(27.07,0.05),(27.22,-0.25),(27.34,0.0),(27.52,0.05),(27.64,-0.05),(27.82,0.2),(28.0,0.0),(28.24,0.0),
 (28.48,-0.15),(28.66,0.0),(28.78,0.1),(28.9,0.0),(29.08,0.15),(29.26,-0.05),(29.44,0.05),(29.62,-0.05),(29.8,0.05),(29.92,-0.05),
 (30.06,0.1),(30.22,-0.05),(30.4,0.1),(30.58,-0.05),(30.76,0.05),(30.94,0.0),(31.12,0.05),(31.54,-0.08),(31.66,0.02),(31.84,-0.05),
 (32.08,0.1),(32.26,0.05),(32.44,0.05),(32.62,0.0),(32.8,0.0),(32.92,-0.05),(33.0,0.0)]

KISZ_1_10 = [(2.71,0),(4.39,0),(4.55,0.1),(4.69,0.25),(4.87,0.4),(4.95,0.42),(5.17,0.3),(5.29,0.2),(5.37,0.1),(5.47,-0.1),
 (5.59,-0.2),(5.71,-0.25),(5.83,-0.2),(5.91,-0.25),(5.99,-0.15),(6.07,0.0),(6.15,0.05),(6.25,0.3),(6.33,0.15),(6.41,0.25),
 (6.55,0.15),(6.67,0.0),(6.79,-0.3),(6.87,-0.4),(6.97,-0.55),(7.03,-0.45),(7.12,-0.6),(7.23,-0.45),(7.33,-0.3),(7.39,-0.15),
 (7.45,-0.35),(7.54,-0.1),(7.63,0.1),(7.69,-0.15),(7.78,0.15),(7.84,-0.1),(7.93,0.2),(7.99,0.05),(8.07,0.25),(8.14,0.15),
 (8.23,0.3),(8.29,0.2),(8.35,0.35),(8.41,0.15),(8.5,0.5),(8.59,0.1),(8.65,0.55),(8.71,0.1),(8.83,0.45),(8.89,0.1),
 (9.01,0.45),(9.13,-0.15),(9.25,0.25),(9.34,-0.1),(9.46,0.3),(9.54,-0.15),(9.66,0.3),(9.76,-0.1),(9.84,0.25),(9.96,0.05),
 (10.06,-0.1),(10.18,0.35),(10.24,-0.05),(10.32,0.15),(10.38,-0.45),(10.44,0.05),(10.5,0.2),(10.59,-0.2),(10.68,-0.1),(10.8,-0.35),
 (10.86,0.0),(10.95,0.2),(11.04,-0.2),(11.16,-0.3),(11.28,0.1),(11.4,-0.35),(11.52,0.05),(11.62,0.1),(11.74,-0.25),(11.86,0.2),
 (11.94,-0.3),(12.06,0.3),(12.12,0.25),(12.18,0.65),(12.27,0.05),(12.36,-0.2),(12.42,0.25),(12.51,-0.2),(12.6,-0.25),(12.66,-0.55),
 (12.74,0.0),(12.84,0.15),(12.94,0.3),(13.02,0.1),(13.14,0.5),(13.22,0.4),(13.32,0.55),(13.42,0.4),(13.5,0.3),(13.58,0.0),
 (13.68,0.4),(13.8,-0.3),(13.9,0.25),(13.98,-0.5),(14.06,0.2),(14.14,-0.1),(14.22,-0.3),(14.34,0.05),(14.5,0.1),(14.58,0.25),
 (14.7,-0.3),(14.78,0.2),(14.88,-0.45),(15.0,0.1),(15.09,-0.1),(15.18,0.0),(15.26,-0.4),(15.36,-0.1),(15.48,-0.35),(15.57,0.0),
 (15.66,-0.3),(15.74,0.05),(15.86,-0.2),(15.96,0.05),(16.02,-0.15),(16.14,0.25),(16.2,0.05),(16.29,0.1),(16.38,-0.2),(16.53,0.35),
 (16.65,0.0),(16.82,0.3),(16.92,0.0),(17.0,0.0)]

KISZ_13_22 = [(3.44,0),(5.19,0),(5.33,0.05),(5.45,0.1),(5.57,0.15),(5.69,0.1),(5.81,0.15),(5.99,0.15),(6.11,0.1),(6.23,-0.05),
 (6.41,0.1),(6.53,0.0),(6.65,0.05),(6.75,-0.1),(6.83,0.05),(6.97,-0.15),(7.07,0.05),(7.19,-0.1),(7.31,0.05),(7.43,-0.1),
 (7.55,0.05),(7.63,0.15),(7.7,-0.1),(7.79,-0.3),(7.91,0.1),(7.97,-0.05),(8.05,0.15),(8.15,-0.2),(8.23,-0.45),(8.33,-0.15),
 (8.47,0.25),(8.57,0.0),(8.69,0.2),(8.78,0.1),(8.9,0.3),(8.99,0.2),(9.07,0.25),(9.19,0.05),(9.26,-0.05),(9.35,0.2),
 (9.43,-0.2),(9.55,0.2),(9.62,0.1),(9.71,-0.25),(9.83,0.0),(9.91,0.1),(10.01,0.5),(10.13,0.2),(10.25,-0.05),(10.34,-0.05),
 (10.39,0.15),(10.46,-0.15),(10.55,-0.05),(10.6,0.15),(10.7,-0.15),(10.82,-0.15),(10.96,-0.1),(11.06,-0.25),(11.18,0.25),(11.26,0.0),
 (11.35,0.3),(11.44,-0.4),(11.56,0.3),(11.62,0.0),(11.71,0.25),(11.8,-0.3),(11.9,0.25),(12.04,-0.1),(12.19,-0.55),(12.26,0.0),
 (12.34,0.5),(12.43,0.0),(12.5,-0.3),(12.58,0.0),(12.64,0.15),(12.79,0.6),(12.88,0.0),(12.94,-0.3),(13.15,0.35),(13.24,0.0),
 (13.39,-0.35),(13.48,0.1),(13.6,0.4),(13.66,0.0),(13.76,-0.7),(13.84,0.0),(13.96,0.45),(14.06,0.35),(14.14,0.1),(14.2,-0.2),
 (14.3,-0.5),(14.38,0.2),(14.44,0.0),(14.56,0.65),(14.66,0.15),(14.78,-0.5),(14.86,0.0),(14.94,0.55),(15.04,0.1),(15.18,-0.55),
 (15.28,0.0),(15.37,0.35),(15.46,0.1),(15.54,-0.2),(15.61,0.0),(15.7,0.15),(15.78,0.05),(15.88,0.15),(16.0,-0.25),(16.12,0.1),
 (16.21,-0.15),(16.36,-0.35),(16.57,0.35),(16.66,0.2),(16.74,-0.05),(16.84,-0.35),(16.93,0.0),(17.05,0.4),(17.17,0.0),(17.26,0.15),
 (17.35,-0.05),(17.44,0.1),(17.53,-0.15),(17.62,0.25),(17.7,0.0),(17.8,0.1),(17.86,-0.1),(17.92,0.25),(18.0,0.4)]

Y_TICKS_SMALL = [-1.2, -0.6, 0, 0.6, 1.2]
Y_TICKS_BIG = [-6, -3, 0, 3, 6]

# (label, series, first hour on the x axis, y ticks)
LEFT = [
    ("ACSZ 1–10", ACSZ_1_10, 0, Y_TICKS_SMALL),
    ("ACSZ 21–30", ACSZ_21_30, -1, Y_TICKS_BIG),
    ("ACSZ 41–50", ACSZ_41_50, 0, Y_TICKS_SMALL),
    ("CASZ 1–10", CASZ_1_10, 6, Y_TICKS_SMALL),
    ("CASZ 15–24", list(zip(CASZ_15_24_T, CASZ_15_24_Y)), 9, Y_TICKS_SMALL),
    ("ECSZ 1–10", list(zip(ECSZ_1_10_T, ECSZ_1_10_Y)), 12, Y_TICKS_SMALL),
    ("SASZ 1–10", list(zip(SASZ_1_10_T, SASZ_1_10_Y)), 13, Y_TICKS_SMALL),
    ("SASZ 21–30", SASZ_21_30, 15, Y_TICKS_SMALL),
    ("SASZ 40–49", SASZ_40_49, 16, Y_TICKS_SMALL),
    ("SCSZ 6–15", SCSZ_6_15, 17, Y_TICKS_SMALL),
    ("KISZ 8–17", KISZ_8_17, 2, Y_TICKS_SMALL),
]
RIGHT = [
    ("ACSZ 11–20", ACSZ_11_20, -1, Y_TICKS_SMALL),
    ("ACSZ 31–40", list(zip(ACSZ_31_40_T, ACSZ_31_40_Y)), -1, Y_TICKS_SMALL),
    ("ACSZ 46–55", ACSZ_46_55, 0, Y_TICKS_SMALL),
    ("CASZ 5–14", list(zip(CASZ_5_14_T, CASZ_5_14_Y)), 6, Y_TICKS_SMALL),
    ("CASZ 25–34", list(zip(CASZ_25_34_T, CASZ_25_34_Y)), 10, Y_TICKS_SMALL),
    ("ECSZ 7–16", list(zip(ECSZ_7_16_T, ECSZ_7_16_Y)), 12, Y_TICKS_SMALL),
    ("SASZ 11–20", SASZ_11_20, 13, Y_TICKS_SMALL),
    ("SASZ 31–40", SASZ_31_40, 16, Y_TICKS_SMALL),
    ("SCSZ 1–10", SCSZ_1_10, 17, Y_TICKS_SMALL),
    ("KISZ 1–10", KISZ_1_10, 1, Y_TICKS_SMALL),
    ("KISZ 13–22", KISZ_13_22, 2, Y_TICKS_SMALL),
]

for a, b, nm in [(CASZ_15_24_T, CASZ_15_24_Y, "CASZ15"), (ECSZ_1_10_T, ECSZ_1_10_Y, "ECSZ1"),
                 (SASZ_1_10_T, SASZ_1_10_Y, "SASZ1"), (ACSZ_31_40_T, ACSZ_31_40_Y, "ACSZ31"),
                 (CASZ_5_14_T, CASZ_5_14_Y, "CASZ5"), (CASZ_25_34_T, CASZ_25_34_Y, "CASZ25"),
                 (ECSZ_7_16_T, ECSZ_7_16_Y, "ECSZ7")]:
    assert len(a) == len(b), f"{nm}: {len(a)} vs {len(b)}"

# ---------------- figure ----------------
W, H = 989, 1484
COLS_PX = [(45, 491), (530, 975)]
ROW_TOP, ROW_H, ROW_STEP = 29.0, 104.7, 130.9
TICK_FONT = dict(family="DejaVu Sans", size=12.5, color="black", weight="bold")
GRID = "rgba(0,0,0,0.6)"


def fmt(v):
    if v == 0:
        return "0"
    s = ("%g" % abs(v))
    return ("−" + s) if v < 0 else s


fig = go.Figure()
layout = {}
annotations = []
n = 0
for c, col in enumerate([LEFT, RIGHT]):
    xl, xr = COLS_PX[c]
    for r, (label, pts, x0, yt) in enumerate(col):
        n += 1
        xs = "" if n == 1 else str(n)
        top = ROW_TOP + r * ROW_STEP
        bot = top + ROW_H
        fig.add_trace(go.Scatter(
            x=[p[0] for p in pts], y=[p[1] for p in pts], mode="lines",
            line=dict(color="black", width=1.8, shape="spline", smoothing=0.5),
            showlegend=False, hoverinfo="skip",
            xaxis="x" + xs, yaxis="y" + xs))
        xt = list(range(x0, x0 + 17))
        common = dict(ticks="inside", ticklen=4, tickwidth=1, tickcolor="black",
                      showline=True, linecolor="black", linewidth=1.3, mirror="ticks",
                      showgrid=True, gridcolor=GRID, griddash="1px,3px", gridwidth=1,
                      zeroline=False, tickfont=TICK_FONT, fixedrange=True, automargin=False)
        layout["xaxis" + xs] = dict(
            domain=[xl / W, xr / W], anchor="y" + xs, range=[x0, x0 + 16],
            tickmode="array", tickvals=xt, ticktext=[fmt(v) for v in xt], **common)
        layout["yaxis" + xs] = dict(
            domain=[1 - bot / H, 1 - top / H], anchor="x" + xs,
            range=[yt[0], yt[-1]], tickmode="array", tickvals=yt,
            ticktext=[fmt(v) for v in yt], **common)
        annotations.append(dict(
            text="<b>%s</b>" % label, showarrow=False,
            xref="x%s domain" % xs, yref="y%s domain" % xs,
            x=(61 - xl) / (xr - xl) if c == 0 else (544 - xl) / (xr - xl),
            y=15.5 / ROW_H, xanchor="left", yanchor="middle",
            font=dict(family="Liberation Sans", size=18, color="black")))

for xpx in (61, 544):
    annotations.append(dict(text="Water Elev. (m)", showarrow=False, xref="paper", yref="paper",
                            x=xpx / W, y=1 - 16 / H, xanchor="left", yanchor="middle",
                            font=dict(family="DejaVu Sans", size=12.5, color="black")))
for cx in (267, 752):
    annotations.append(dict(text="<b>Time (hrs. after earthquake)</b>", showarrow=False,
                            xref="paper", yref="paper", x=cx / W, y=1 - 1469 / H,
                            xanchor="center", yanchor="middle",
                            font=dict(family="DejaVu Sans", size=12.5, color="black")))

fig.update_layout(**layout)
fig.update_layout(width=W, height=H, margin=dict(l=0, r=0, t=0, b=0, autoexpand=False),
                  paper_bgcolor="white", plot_bgcolor="white",
                  annotations=annotations, showlegend=False)
fig.write_html("out.html", config={"displayModeBar": False},
               post_script="document.body.style.margin='0';document.body.style.overflow='hidden';")
